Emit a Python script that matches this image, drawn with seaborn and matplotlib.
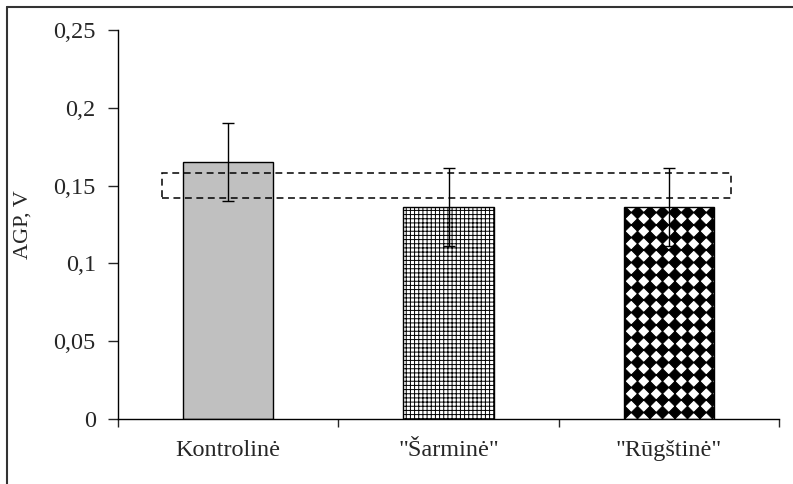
import numpy as np
import pandas as pd
import matplotlib
matplotlib.use("Agg")
import matplotlib.pyplot as plt
import matplotlib.hatch as mhatch
from matplotlib.path import Path
from matplotlib.patches import Rectangle
from matplotlib.lines import Line2D
import seaborn as sns

# ---- data ----
categories = ["Kontrolinė", "\"Šarminė\"", "\"Rūgštinė\""]
values = [0.165, 0.136, 0.136]
errors = [0.025, 0.025, 0.025]
band_low, band_high = 0.142, 0.158          # dashed reference band (V)
band_x0, band_x1 = -0.30, 2.28              # band extent in category units
y_ticks = [0, 0.05, 0.1, 0.15, 0.2, 0.25]
y_tick_labels = ["0", "0,05", "0,1", "0,15", "0,2", "0,25"]
y_label = "AGP, V"

# ---- custom filled-diamond hatch (replaces '*' stars) ----
class Diamonds(mhatch.Shapes):
    size = 1.0
    filled = True

    def __init__(self, hatch, density):
        self.num_rows = hatch.count('*') * 4
        n = self.num_rows
        self.shape_vertices = np.array([[0, -0.5], [0.5, 0], [0, 0.5], [-0.5, 0], [0, -0.5]])
        self.shape_codes = np.array([Path.MOVETO, Path.LINETO, Path.LINETO,
                                     Path.LINETO, Path.CLOSEPOLY], dtype=Path.code_type)
        self.num_shapes = (n + 1) * (n + 1) if n else 0
        self.num_vertices = self.num_shapes * 5

    def set_vertices_and_codes(self, vertices, codes):
        n = self.num_rows
        off = 1.0 / n
        sv = self.shape_vertices * off * self.size
        vparts, cparts = [], []
        for r in range(n + 1):
            for c in range(n + 1):
                vparts.append(sv + [c * off, r * off])
                cparts.append(self.shape_codes)
        np.concatenate(vparts, out=vertices)
        np.concatenate(cparts, out=codes)

mhatch._hatch_types = [t for t in mhatch._hatch_types if t is not mhatch.Stars] + [Diamonds]

sns.set_style("ticks")
plt.rcParams['font.family'] = ['Liberation Serif', 'DejaVu Serif']
plt.rcParams['hatch.linewidth'] = 0.7
plt.rcParams['hatch.color'] = 'black'

df = pd.DataFrame({"cat": categories, "val": values})

fig = plt.figure(figsize=(7.93, 4.84), dpi=100)
ax = fig.add_axes([118/793, 1-419/484, (779-118)/793, (419-30)/484])

sns.barplot(data=df, x="cat", y="val", hue="cat", legend=False,
            palette=["#c0c0c0", "white", "white"], width=0.41,
            edgecolor="black", linewidth=1.0, errorbar=None, ax=ax)

hatches = [None, "++++", "**"]
for p, h in zip(ax.patches, hatches):
    if h:
        p.set_hatch(h)

ax.errorbar(range(len(categories)), values, yerr=errors, fmt="none",
            ecolor="black", elinewidth=1.0, capsize=4, capthick=1.0)

ax.add_patch(Rectangle((band_x0, band_low), band_x1 - band_x0, band_high - band_low,
                       fill=False, edgecolor="black", linewidth=1.1,
                       linestyle=(0, (4.5, 3)), zorder=5))

ax.set_xlim(-0.5, 2.5)
ax.set_ylim(0, 0.25)
ax.set_yticks(y_ticks, labels=y_tick_labels)
ax.set_xticks([-0.5, 0.5, 1.5, 2.5], labels=[""] * 4)
ax.set_xticks(range(len(categories)), labels=categories, minor=True)
ax.tick_params(axis="x", which="minor", length=0, pad=15, labelsize=17.5)
ax.tick_params(axis="x", which="major", length=6, width=1.0, direction="out")
ax.tick_params(axis="y", length=7, width=1.0, direction="out", pad=9, labelsize=17.5)
ax.set_xlabel("")
ax.set_ylabel(y_label, fontsize=16)
ax.yaxis.set_label_coords(-0.129, 0.5)
for s in ["top", "right"]:
    ax.spines[s].set_visible(False)
for s in ["left", "bottom"]:
    ax.spines[s].set_linewidth(1.0)
    ax.spines[s].set_color("black")

# outer frame (top and left edges visible)
fig.add_artist(Line2D([7/793, 1], [1-7/484, 1-7/484], transform=fig.transFigure,
                      color="#333333", lw=1.5))
fig.add_artist(Line2D([7/793, 7/793], [0, 1-7/484], transform=fig.transFigure,
                      color="#333333", lw=1.5))

fig.savefig("out.png", dpi=100)
